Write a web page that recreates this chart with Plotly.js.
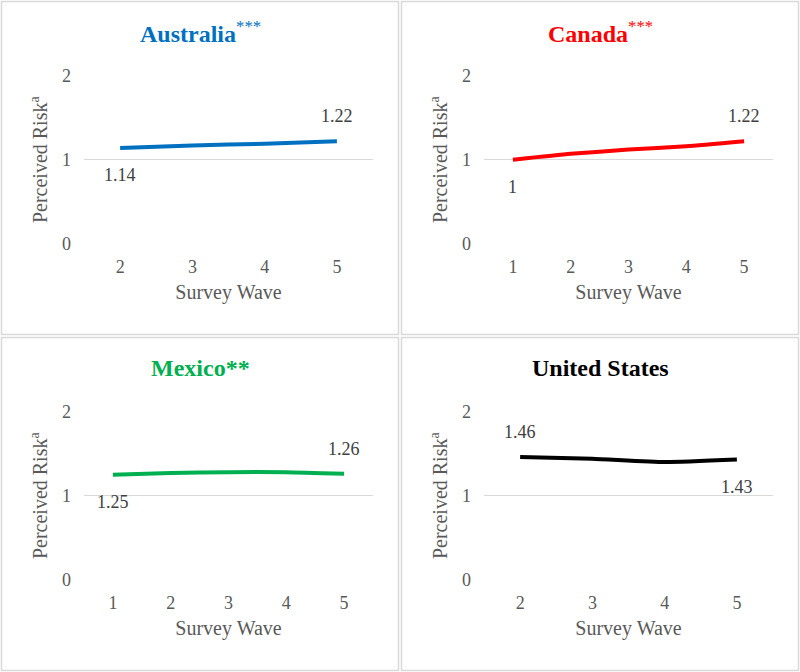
<!DOCTYPE html>
<html>
<head>
<meta charset="utf-8">
<script src="https://cdn.plot.ly/plotly-3.0.1.min.js"></script>
<style>html,body{margin:0;padding:0;background:#fff}#chart{width:800px;height:672px}</style>
</head>
<body>
<div id="chart"></div>
<script>
// ---- Data ----
const countries = ["Australia", "Canada", "Mexico", "United States"];
const titleMarks = ["***", "***", "**", ""];
const colors = ["#0070C0", "#FF0000", "#00B050", "#000000"];

const wavesAustralia = [2, 3, 4, 5];
const riskAustralia = [1.14, 1.17, 1.19, 1.22];

const wavesCanada = [1, 2, 3, 4, 5];
const riskCanada = [1.00, 1.07, 1.12, 1.16, 1.22];

const wavesMexico = [1, 2, 3, 4, 5];
const riskMexico = [1.25, 1.27, 1.28, 1.28, 1.26];

const wavesUS = [2, 3, 4, 5];
const riskUS = [1.46, 1.44, 1.40, 1.43];

const yTicks = [0, 1, 2];
const xTitle = "Survey Wave";
const yTitle = "Perceived Risk<sup>a</sup>";

// labels: [first label text, first position, last label text, last position]
const labelsAustralia = ["1.14", "below", "1.22", "above"];
const labelsCanada = ["1", "below", "1.22", "above"];
const labelsMexico = ["1.25", "below", "1.26", "above"];
const labelsUS = ["1.46", "above", "1.43", "below"];

const waves = [wavesAustralia, wavesCanada, wavesMexico, wavesUS];
const risks = [riskAustralia, riskCanada, riskMexico, riskUS];
const labels = [labelsAustralia, labelsCanada, labelsMexico, labelsUS];

// ---- Layout geometry (pixels) ----
const W = 800, H = 672;
const panels = [
  {x0: 0, y0: 0}, {x0: 400, y0: 0}, {x0: 0, y0: 336}, {x0: 400, y0: 336}
];
const plotL = 84, plotR = 373, plotT = 75.7, plotB = 243.7;

const serif = "'Liberation Serif', 'Times New Roman', serif";
const grey = "#595959";

const traces = [];
const layout = {
  width: W, height: H,
  margin: {l: 0, r: 0, t: 0, b: 0},
  paper_bgcolor: "#ffffff",
  plot_bgcolor: "#ffffff",
  showlegend: false,
  font: {family: serif},
  annotations: [],
  shapes: []
};

for (let i = 0; i < 4; i++) {
  const p = panels[i];
  const sfx = i === 0 ? "" : String(i + 1);
  const xa = "x" + sfx, ya = "y" + sfx;
  const wv = waves[i];
  traces.push({
    x: wv, y: risks[i], xaxis: xa, yaxis: ya,
    type: "scatter", mode: "lines",
    line: {color: colors[i], width: 4, shape: "spline", smoothing: 0.5},
    hoverinfo: "skip"
  });
  const xmin = Math.min(...wv) - 0.5, xmax = Math.max(...wv) + 0.5;
  layout["xaxis" + sfx] = {
    domain: [(p.x0 + plotL) / W, (p.x0 + plotR) / W],
    anchor: ya,
    range: [xmin, xmax],
    tickvals: wv,
    ticktext: wv.map(String),
    showgrid: false, zeroline: false, showline: false,
    ticks: "", ticklabelstandoff: 10,
    tickfont: {family: serif, size: 18, color: grey},
    title: {text: xTitle, font: {family: serif, size: 20, color: grey}, standoff: 9},
    fixedrange: true
  };
  layout["yaxis" + sfx] = {
    domain: [1 - (p.y0 + plotB) / H, 1 - (p.y0 + plotT) / H],
    anchor: xa,
    range: [0, 2],
    tickvals: yTicks,
    ticktext: yTicks.map(String),
    showgrid: true, gridcolor: "#d9d9d9", gridwidth: 1,
    zeroline: false, showline: false,
    ticks: "", ticklabelstandoff: 12,
    tickfont: {family: serif, size: 18, color: grey},
    title: {text: yTitle, font: {family: serif, size: 20, color: grey}, standoff: 8},
    fixedrange: true
  };
  // panel title
  const mark = titleMarks[i];
  let ttext = "<b>" + countries[i] + "</b>";
  if (mark) {
    ttext += (i === 2) ? "<b>" + mark + "</b>" : "<sup>" + mark + "</sup>";
  }
  layout.annotations.push({
    xref: "paper", yref: "paper",
    x: (p.x0 + 200) / W, y: 1 - (p.y0 + 32) / H,
    xanchor: "center", yanchor: "middle",
    text: ttext, showarrow: false,
    font: {family: serif, size: 24, color: colors[i]}
  });
  // data labels
  const lb = labels[i];
  const n = wv.length;
  [[0, lb[0], lb[1]], [n - 1, lb[2], lb[3]]].forEach(([idx, txt, pos]) => {
    layout.annotations.push({
      xref: xa, yref: ya, x: wv[idx], y: risks[i][idx],
      text: txt, showarrow: false,
      xanchor: "center", yanchor: "middle",
      yshift: pos === "above" ? 25 : -27,
      font: {family: serif, size: 18, color: "#404040"}
    });
  });
  // panel border
  layout.shapes.push({
    type: "rect", xref: "paper", yref: "paper",
    x0: (p.x0 + 1.5) / W, x1: (p.x0 + 398.5) / W,
    y0: 1 - (p.y0 + 334.5) / H, y1: 1 - (p.y0 + 1.5) / H,
    line: {color: "#d9d9d9", width: 1.5}
  });
}

Plotly.newPlot("chart", traces, layout, {displayModeBar: false, staticPlot: true});
</script>
</body>
</html>
